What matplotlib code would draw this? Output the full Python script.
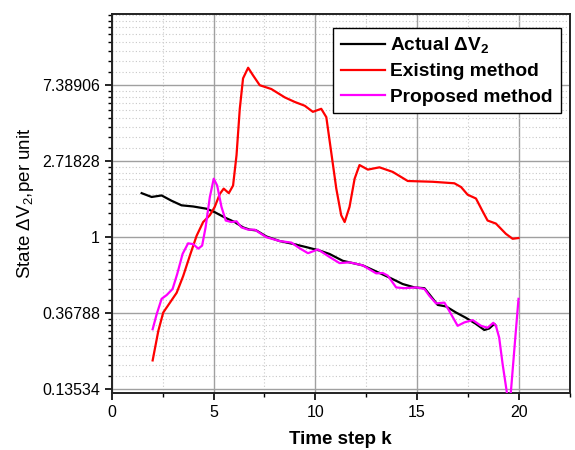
import numpy as np
import matplotlib
matplotlib.use("Agg")
import matplotlib.pyplot as plt
from matplotlib.ticker import FixedLocator, NullFormatter

plt.rcParams["font.family"] = ["Liberation Sans", "DejaVu Sans"]
plt.rcParams["mathtext.fontset"] = "custom"
plt.rcParams["mathtext.rm"] = "Liberation Sans"
plt.rcParams["mathtext.it"] = "Liberation Sans:italic"
plt.rcParams["mathtext.bf"] = "Liberation Sans:bold"

# time steps and ln(state) for each series
actual_k = [1.47, 1.96, 2.45, 2.94, 3.43, 4.0, 4.66, 5.06, 5.55, 6.04, 6.45, 6.78,
            7.1, 7.6, 8.25, 8.9, 9.56, 10.21, 10.70, 11.35, 12.33, 12.99, 13.64,
            14.29, 14.87, 15.36, 15.60, 16.01, 16.42, 16.91, 17.40, 17.89,
            18.30, 18.54, 18.79, 18.87]
actual_ln = [0.58, 0.53, 0.55, 0.48, 0.42, 0.405, 0.375, 0.33, 0.26, 0.20, 0.13,
             0.10, 0.09, 0.01, -0.05, -0.087, -0.13, -0.175, -0.22, -0.31,
             -0.37, -0.45, -0.53, -0.615, -0.66, -0.67, -0.75, -0.89, -0.91,
             -0.99, -1.06, -1.14, -1.22, -1.20, -1.14, -1.165]

existing_k = [2.01, 2.29, 2.53, 2.86, 3.19, 3.51, 3.84, 4.17, 4.49, 4.82, 5.06,
              5.31, 5.50, 5.75, 5.96, 6.13, 6.29, 6.45, 6.70, 6.94, 7.27, 7.84,
              8.50, 8.99, 9.48, 9.88, 10.29, 10.54, 10.78, 11.03, 11.27, 11.44,
              11.68, 11.93, 12.17, 12.58, 13.15, 13.8, 14.54, 15.76, 16.83,
              17.16, 17.48, 17.89, 18.2, 18.46, 18.87, 19.36, 19.69, 19.98]
existing_ln = [-1.62, -1.23, -0.99, -0.86, -0.73, -0.51, -0.24, 0.02, 0.20, 0.29,
               0.40, 0.57, 0.64, 0.58, 0.68, 1.08, 1.69, 2.09, 2.23, 2.13, 2.00,
               1.95, 1.84, 1.78, 1.73, 1.65, 1.69, 1.58, 1.12, 0.64, 0.29, 0.20,
               0.40, 0.77, 0.95, 0.89, 0.92, 0.86, 0.74, 0.73, 0.71, 0.66, 0.56,
               0.51, 0.35, 0.22, 0.18, 0.045, -0.02, -0.01]

proposed_k = [2.01, 2.21, 2.45, 2.70, 2.99, 3.22, 3.48, 3.75, 4.0, 4.25, 4.44,
              4.61, 4.82, 5.01, 5.18, 5.39, 5.60, 5.88, 6.13, 6.37, 6.70, 7.02,
              7.6, 8.25, 8.82, 9.23, 9.64, 10.13, 10.70, 11.19, 11.68, 12.33,
              12.99, 13.31, 13.56, 13.97, 14.38, 14.95, 15.36, 15.60, 15.93,
              16.34, 16.58, 16.99, 17.32, 17.73, 18.14, 18.46, 18.74, 18.87,
              19.03, 19.2, 19.44, 19.6, 19.85, 19.98]
proposed_ln = [-1.21, -1.01, -0.81, -0.76, -0.68, -0.48, -0.22, -0.08, -0.09,
               -0.15, -0.11, 0.13, 0.53, 0.77, 0.68, 0.40, 0.22, 0.20, 0.21, 0.13,
               0.10, 0.10, 0.0, -0.05, -0.07, -0.145, -0.21, -0.16, -0.26, -0.34,
               -0.33, -0.37, -0.475, -0.47, -0.505, -0.66, -0.67, -0.66, -0.68,
               -0.77, -0.87, -0.86, -0.97, -1.165, -1.12, -1.09, -1.165, -1.19,
               -1.125, -1.165, -1.32, -1.67, -2.1, -2.05, -1.23, -0.81]

ytick_vals = [0.13534, 0.36788, 1, 2.71828, 7.38906]
ytick_labels = ["0.13534", "0.36788", "1", "2.71828", "7.38906"]
xtick_vals = [0, 5, 10, 15, 20]

fig = plt.figure(figsize=(5.75, 4.5), dpi=100)
ax = fig.add_axes([0.1943, 0.1273, 0.7967, 0.8416])

ax.plot(actual_k, np.exp(actual_ln), color="black", lw=1.6, label=r"Actual $\mathbf{\Delta V_2}$", zorder=3)
ax.plot(existing_k, np.exp(existing_ln), color="#ff0000", lw=1.6, label="Existing method", zorder=4)
ax.plot(proposed_k, np.exp(proposed_ln), color="#ff00ff", lw=1.6, label="Proposed method", zorder=5)

ax.set_yscale("log", base=np.e)
ax.set_ylim(np.exp(-2.045), np.exp(2.937))
ax.set_xlim(0, 22.5)

ax.yaxis.set_major_locator(FixedLocator(ytick_vals))
ax.set_yticklabels(ytick_labels)
# nine linear subdivisions inside each e-decade
minor_y = []
for n in range(-3, 3):
    lo, hi = np.exp(n), np.exp(n + 1)
    minor_y += [lo + j * (hi - lo) / 9 for j in range(1, 9)]
ax.yaxis.set_minor_locator(FixedLocator(minor_y))
ax.yaxis.set_minor_formatter(NullFormatter())

ax.xaxis.set_major_locator(FixedLocator(xtick_vals))
ax.xaxis.set_minor_locator(FixedLocator([2.5, 7.5, 12.5, 17.5, 22.5]))

ax.grid(which="major", color="#a0a0a0", lw=1.0, ls="-")
ax.grid(which="minor", color="#c8c8c8", lw=0.8, ls=(0, (1, 2)))
ax.set_axisbelow(True)

ax.tick_params(which="major", direction="out", length=5, width=1.2, labelsize=11.5, colors="black")
ax.tick_params(which="minor", direction="out", length=3, width=1.0)
for s in ax.spines.values():
    s.set_linewidth(1.4)
    s.set_color("#222222")

ax.set_xlabel("Time step k", fontsize=13.5, fontweight="bold", labelpad=8)
ax.set_ylabel(r"State $\Delta$V$_2$,per unit", fontsize=13.5, labelpad=4)

leg = ax.legend(loc="upper right", bbox_to_anchor=(0.9797, 0.9638), borderaxespad=0,
                prop={"weight": "bold", "size": 13.8}, handlelength=2.3, handletextpad=0.3,
                labelspacing=0.4, borderpad=0.4, fancybox=False, framealpha=1,
                edgecolor="black")
leg.get_frame().set_linewidth(1.0)

fig.savefig("out.png", dpi=100)
